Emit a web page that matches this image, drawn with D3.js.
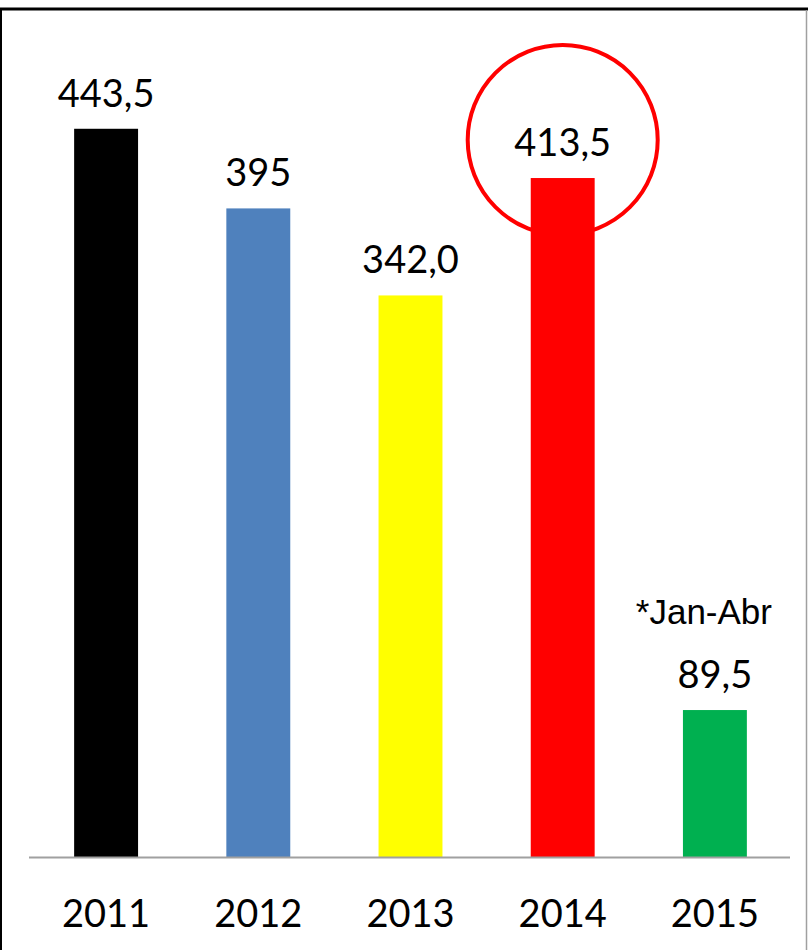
<!DOCTYPE html>
<html>
<head>
<meta charset="utf-8">
<script src="https://cdn.jsdelivr.net/npm/d3@7"></script>
<style>
  body { margin: 0; background: #fff; }
  svg { display: block; }
</style>
</head>
<body>
<svg id="chart"></svg>
<script>
const years = ["2011", "2012", "2013", "2014", "2015"];
const values = [443.5, 395, 342.0, 413.5, 89.5];
const valueLabels = ["443,5", "395", "342,0", "413,5", "89,5"];
const barColors = ["#000000", "#4f81bd", "#ffff00", "#ff0000", "#00b050"];
const highlightYear = "2014";
const noteYear = "2015";
const noteText = "*Jan-Abr";

const WIDTH = 808, HEIGHT = 950;

const svg = d3.select("#chart")
    .attr("width", WIDTH)
    .attr("height", HEIGHT);

svg.append("rect")
    .attr("width", WIDTH)
    .attr("height", HEIGHT)
    .attr("fill", "white");

// frame
svg.append("line")
    .attr("x1", 0).attr("x2", WIDTH).attr("y1", 9).attr("y2", 9)
    .attr("stroke", "black").attr("stroke-width", 3);
svg.append("line")
    .attr("x1", 1).attr("x2", 1).attr("y1", 8).attr("y2", HEIGHT)
    .attr("stroke", "black").attr("stroke-width", 2);
svg.append("line")
    .attr("x1", 806.5).attr("x2", 806.5).attr("y1", 10).attr("y2", HEIGHT)
    .attr("stroke", "#a0a0a0").attr("stroke-width", 1.5);

const x = d3.scaleBand()
    .domain(years)
    .range([30, 791])
    .paddingInner(0.58)
    .paddingOuter(0.29);

const y = d3.scaleLinear()
    .domain([0, 500])
    .range([857, 36]);

const data = years.map((d, i) => ({ year: d, value: values[i], label: valueLabels[i], color: barColors[i] }));

// highlight circle behind the 2014 bar
svg.append("circle")
    .attr("cx", x(highlightYear) + x.bandwidth() / 2)
    .attr("cy", 140)
    .attr("r", 95)
    .attr("fill", "none")
    .attr("stroke", "#ff0000")
    .attr("stroke-width", 4);

svg.selectAll("rect.bar")
    .data(data)
    .join("rect")
    .attr("class", "bar")
    .attr("x", d => x(d.year))
    .attr("y", d => y(d.value))
    .attr("width", x.bandwidth())
    .attr("height", d => y(0) - y(d.value))
    .attr("fill", d => d.color);

// axis line
svg.append("line")
    .attr("x1", 29).attr("x2", 790)
    .attr("y1", y(0) + 0.5).attr("y2", y(0) + 0.5)
    .attr("stroke", "#a0a0a0").attr("stroke-width", 2);

svg.selectAll("text.value")
    .data(data)
    .join("text")
    .attr("class", "value")
    .attr("x", d => x(d.year) + x.bandwidth() / 2)
    .attr("y", d => y(d.value) - 22)
    .attr("text-anchor", "middle")
    .style("font-family", "Lato, 'Open Sans', sans-serif")
    .style("font-size", "38px")
    .style("fill", "black")
    .text(d => d.label);

svg.selectAll("text.tick")
    .data(years)
    .join("text")
    .attr("class", "tick")
    .attr("x", d => x(d) + x.bandwidth() / 2)
    .attr("y", 927)
    .attr("text-anchor", "middle")
    .style("font-family", "Lato, 'Open Sans', sans-serif")
    .style("font-size", "38px")
    .style("fill", "black")
    .text(d => d);

const noteVal = values[years.indexOf(noteYear)];
svg.append("text")
    .attr("x", x(noteYear) + x.bandwidth() / 2 - 11)
    .attr("y", y(noteVal) - 86)
    .attr("text-anchor", "middle")
    .style("font-family", "'Liberation Sans', Arial, sans-serif")
    .style("font-size", "35px")
    .style("fill", "black")
    .text(noteText);
</script>
</body>
</html>
